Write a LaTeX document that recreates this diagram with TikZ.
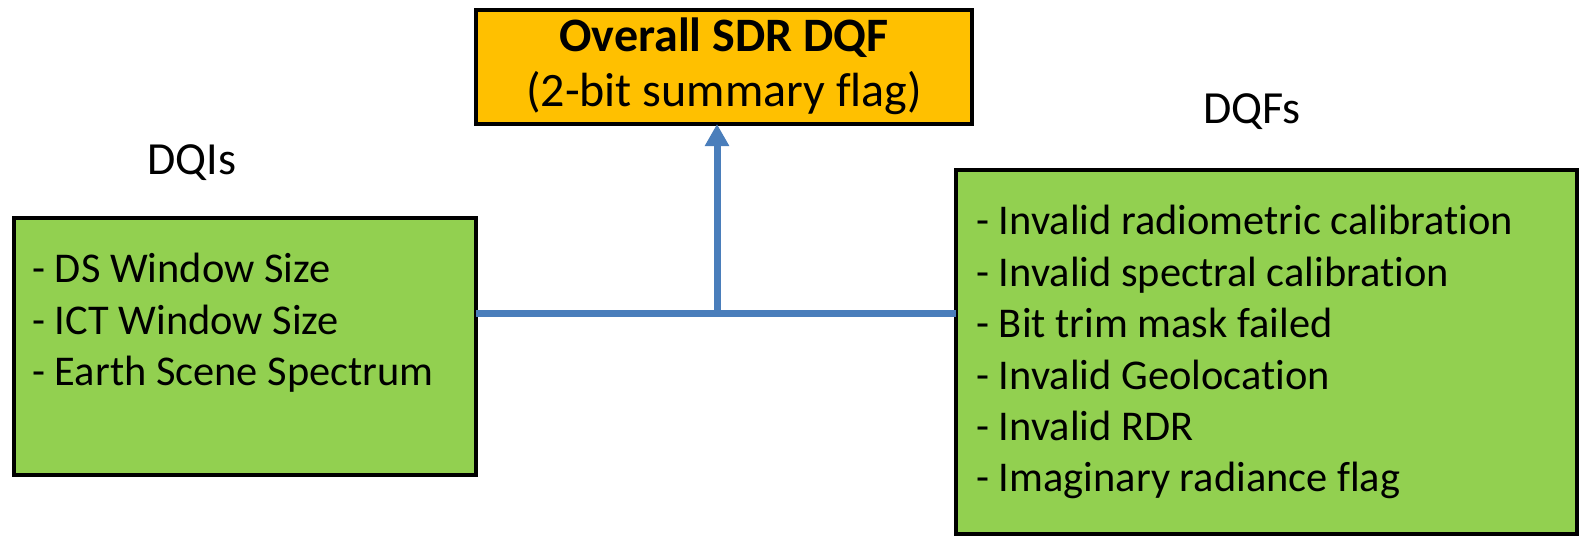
\documentclass[tikz,border=0pt]{standalone}
\usepackage{fontspec}
\setmainfont{Carlito}[Ligatures=NoCommon]
\usetikzlibrary{arrows.meta}
\definecolor{ccorange}{RGB}{255,192,0}
\definecolor{ccgreen}{RGB}{146,208,80}
\definecolor{ccblue}{RGB}{74,126,187}
% t et i sans ligature
\newcommand{\tiSep}{t\kern0pt i}

\begin{document}
\begin{tikzpicture}[x=0.5pt, y=-0.5pt]

  % Styles
  \tikzstyle{boite} = [draw=black, line width=2pt, rectangle, inner sep=0pt, outer sep=0pt]
  \tikzstyle{liste} = [anchor=north west, align=left, inner sep=0pt, font=\fontsize{21.2}{25.7}\selectfont]
  \tikzstyle{titre} = [inner sep=0pt, font=\fontsize{23}{27}\selectfont]
  \tikzstyle{liaison} = [ccblue, line width=3.5pt]
  \tikzstyle{fleche} = [-{Triangle[width=11.5pt, length=11pt]}, ccblue, line width=3.5pt]

  % Cadre
  \useasboundingbox (0,0) rectangle (1580,536);

  % Boites
  \node[boite, fill=ccorange, minimum width=248pt, minimum height=57.25pt, align=center,
        font=\fontsize{24}{27.5}\selectfont] (sdr) at (724,66.75)
        {\textbf{Overall SDR DQF}\\(2-bit summary flag)};
  \node[boite, fill=ccgreen, minimum width=231pt, minimum height=128.5pt] (dqi) at (245,346) {};
  \node[boite, fill=ccgreen, minimum width=310.5pt, minimum height=182pt] (dqf) at (1266.5,352) {};

  % Titres
  \node[titre] (dqititre) at (192,163) {DQIs};
  \node[titre] (dqftitre) at (1252,112) {DQFs};

  % Listes
  \node[liste] (dqiliste) at (32,253) {- DS Window Size\\- ICT Window Size\\- Earth Scene Spectrum};
  \node[liste] (dqfliste) at (976,205) {- Invalid radiometric calibra\tiSep on\\- Invalid spectral calibra\tiSep on\\
    - Bit trim mask failed\\- Invalid Geoloca\tiSep on\\- Invalid RDR\\- Imaginary radiance flag};

  % Liaisons
  \coordinate (jonction) at (717,313);
  \draw[liaison] (dqi.east |- jonction) -- (dqf.west |- jonction);
  \draw[fleche] (jonction) -- (jonction |- sdr.south);

\end{tikzpicture}
\end{document}
